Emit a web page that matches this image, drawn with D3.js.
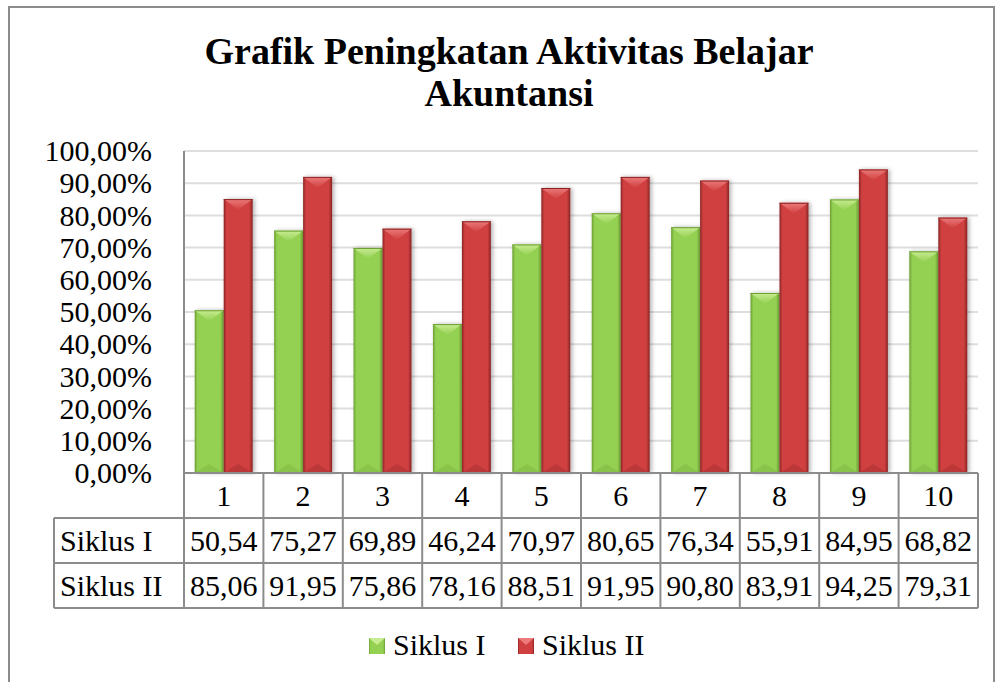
<!DOCTYPE html>
<html>
<head>
<meta charset="utf-8">
<script src="https://cdnjs.cloudflare.com/ajax/libs/d3/7.8.5/d3.min.js"></script>
<style>
  body { margin: 0; background: #fff; }
  svg { display: block; font-family: "Liberation Serif", "Times New Roman", serif; }
</style>
</head>
<body>
<div id="chart"></div>
<script>
'use strict';

const categories = ['1', '2', '3', '4', '5', '6', '7', '8', '9', '10'];
const seriesNames = ['Siklus I', 'Siklus II'];
const siklus1 = [50.54, 75.27, 69.89, 46.24, 70.97, 80.65, 76.34, 55.91, 84.95, 68.82];
const siklus2 = [85.06, 91.95, 75.86, 78.16, 88.51, 91.95, 90.80, 83.91, 94.25, 79.31];
const yTicks = [0, 10, 20, 30, 40, 50, 60, 70, 80, 90, 100];
const titleLines = ['Grafik Peningkatan Aktivitas Belajar', 'Akuntansi'];

const width = 1000, height = 682;
const plot = { left: 184, right: 978, top: 151, bottom: 473 };
const rowH = 45, tableLeft = 54;
const fontSize = 30;

// colours per series: edge, main, cap
const palette = [
    { dark: '#6c9e33', main: '#94d152', light: '#c8ec92', base: '#7fb540' },
    { dark: '#8a2424', main: '#d04040', light: '#ec7a7a', base: '#a82f2f' }
];

const fmt = v => v.toFixed(2).replace('.', ',');

let svg = d3.select('#chart').append('svg')
    .attr('width', width).attr('height', height);

let defs = svg.append('defs');
palette.forEach((p, i) => {
    let g = defs.append('linearGradient').attr('id', 'bar' + i)
        .attr('x1', 0).attr('x2', 1).attr('y1', 0).attr('y2', 0);
    [[0, p.dark], [0.1, p.main], [0.5, p.main], [0.88, p.main], [1, p.dark]].forEach(s =>
        g.append('stop').attr('offset', s[0]).attr('stop-color', s[1]));
    let c = defs.append('linearGradient').attr('id', 'cap' + i)
        .attr('x1', 0).attr('x2', 0).attr('y1', 0).attr('y2', 1);
    c.append('stop').attr('offset', 0).attr('stop-color', p.light);
    c.append('stop').attr('offset', 1).attr('stop-color', p.main);
});
defs.append('filter').attr('id', 'shadow')
    .attr('x', '-20%').attr('y', '-5%').attr('width', '150%').attr('height', '115%')
    .append('feDropShadow').attr('dx', 2).attr('dy', 0).attr('stdDeviation', 2)
    .attr('flood-color', '#000').attr('flood-opacity', 0.3);

// outer chart frame
svg.append('rect')
    .attr('x', 9).attr('y', 7).attr('width', 985).attr('height', 690)
    .attr('fill', '#fff').attr('stroke', '#8c8c8c').attr('stroke-width', 2);

// title
svg.append('text')
    .attr('x', 509).attr('text-anchor', 'middle')
    .attr('font-size', 38).attr('font-weight', 'bold')
    .selectAll('tspan').data(titleLines).join('tspan')
    .attr('x', 509).attr('y', (d, i) => 64 + i * 42)
    .text(d => d);

// scales
let x = d3.scaleBand().domain(categories).range([plot.left, plot.right]);
let xSub = d3.scaleBand().domain(seriesNames).range([0, x.bandwidth()])
    .paddingInner(0).paddingOuter(0.37);
let y = d3.scaleLinear().domain([0, 100]).range([plot.bottom, plot.top]);

// gridlines
svg.append('g').selectAll('line').data(yTicks.filter(d => d > 0)).join('line')
    .attr('x1', plot.left).attr('x2', plot.right)
    .attr('y1', d => y(d)).attr('y2', d => y(d))
    .attr('stroke', '#dedede').attr('stroke-width', 2);

// y axis labels
let yAxis = svg.append('g')
    .attr('transform', `translate(${plot.left},0)`)
    .call(d3.axisLeft(y).tickValues(yTicks).tickSize(0).tickPadding(32)
        .tickFormat(d => fmt(d) + '%'));
yAxis.select('.domain').remove();
yAxis.selectAll('text')
    .attr('font-family', '"Liberation Serif", serif')
    .attr('font-size', fontSize).attr('fill', '#000');

// vertical axis line
svg.append('line')
    .attr('x1', plot.left).attr('x2', plot.left)
    .attr('y1', plot.top).attr('y2', plot.bottom)
    .attr('stroke', '#8c8c8c').attr('stroke-width', 2);

// bars
let seriesData = [siklus1, siklus2];
let groups = svg.append('g').selectAll('g.series')
    .data(seriesData).join('g').classed('series', true);

groups.each(function (vals, si) {
    let bars = d3.select(this).selectAll('g.bar')
        .data(vals.map((v, ci) => ({ cat: categories[ci], v: v })))
        .join('g').classed('bar', true)
        .attr('transform', d => `translate(${x(d.cat) + xSub(seriesNames[si])},0)`);
    let w = xSub.bandwidth();
    bars.append('rect')
        .attr('x', 0).attr('y', d => y(d.v))
        .attr('width', w).attr('height', d => y(0) - y(d.v))
        .attr('fill', `url(#bar${si})`)
        .attr('filter', 'url(#shadow)');
    // top bevel
    bars.append('path')
        .attr('d', d => `M0,${y(d.v)} L${w},${y(d.v)} L${w / 2},${y(d.v) + 11} Z`)
        .attr('fill', `url(#cap${si})`);
    bars.append('line')
        .attr('x1', 0).attr('x2', w)
        .attr('y1', d => y(d.v) + 0.5).attr('y2', d => y(d.v) + 0.5)
        .attr('stroke', palette[si].dark).attr('stroke-width', 1);
    // bottom bevel
    bars.append('path')
        .attr('d', `M0,${y(0)} L${w},${y(0)} L${w / 2},${y(0) - 9} Z`)
        .attr('fill', palette[si].base).attr('opacity', 0.5);
});

// data table
let table = svg.append('g');
let rows = [
    { label: null, cells: categories },
    { label: seriesNames[0], cells: siklus1.map(fmt) },
    { label: seriesNames[1], cells: siklus2.map(fmt) }
];
let lineColor = '#8c8c8c';

// horizontal lines
[0, 1, 2, 3].forEach(r => {
    let yy = plot.bottom + r * rowH;
    table.append('line')
        .attr('x1', r === 0 ? plot.left : (r === 1 ? tableLeft : tableLeft)).attr('x2', plot.right)
        .attr('y1', yy).attr('y2', yy)
        .attr('stroke', lineColor).attr('stroke-width', 2);
});
// vertical lines
let xs = categories.map(c => x(c)).concat([plot.right]);
xs.forEach(xx => {
    table.append('line')
        .attr('x1', xx).attr('x2', xx)
        .attr('y1', plot.bottom).attr('y2', plot.bottom + 3 * rowH)
        .attr('stroke', lineColor).attr('stroke-width', 2);
});
table.append('line')
    .attr('x1', tableLeft).attr('x2', tableLeft)
    .attr('y1', plot.bottom + rowH).attr('y2', plot.bottom + 3 * rowH)
    .attr('stroke', lineColor).attr('stroke-width', 2);

rows.forEach((row, r) => {
    let cy = plot.bottom + r * rowH + rowH / 2 + 10;
    if (row.label) {
        table.append('text')
            .attr('x', tableLeft + 6).attr('y', cy)
            .attr('font-size', fontSize).text(row.label);
    }
    table.selectAll(null).data(row.cells).join('text')
        .attr('x', (d, i) => x(categories[i]) + x.bandwidth() / 2)
        .attr('y', cy)
        .attr('text-anchor', 'middle')
        .attr('font-size', fontSize)
        .text(d => d);
});

// legend
let legendPos = [369, 518];
let legend = svg.append('g').selectAll('g').data(seriesNames).join('g')
    .attr('transform', (d, i) => `translate(${legendPos[i]},638)`);
legend.append('rect')
    .attr('width', 16).attr('height', 16)
    .attr('fill', (d, i) => `url(#bar${i})`);
legend.append('path')
    .attr('d', 'M0,0 L16,0 L8,7 Z')
    .attr('fill', (d, i) => palette[i].light);
legend.append('text')
    .attr('x', 24).attr('y', 17)
    .attr('font-size', fontSize)
    .text(d => d);
</script>
</body>
</html>
